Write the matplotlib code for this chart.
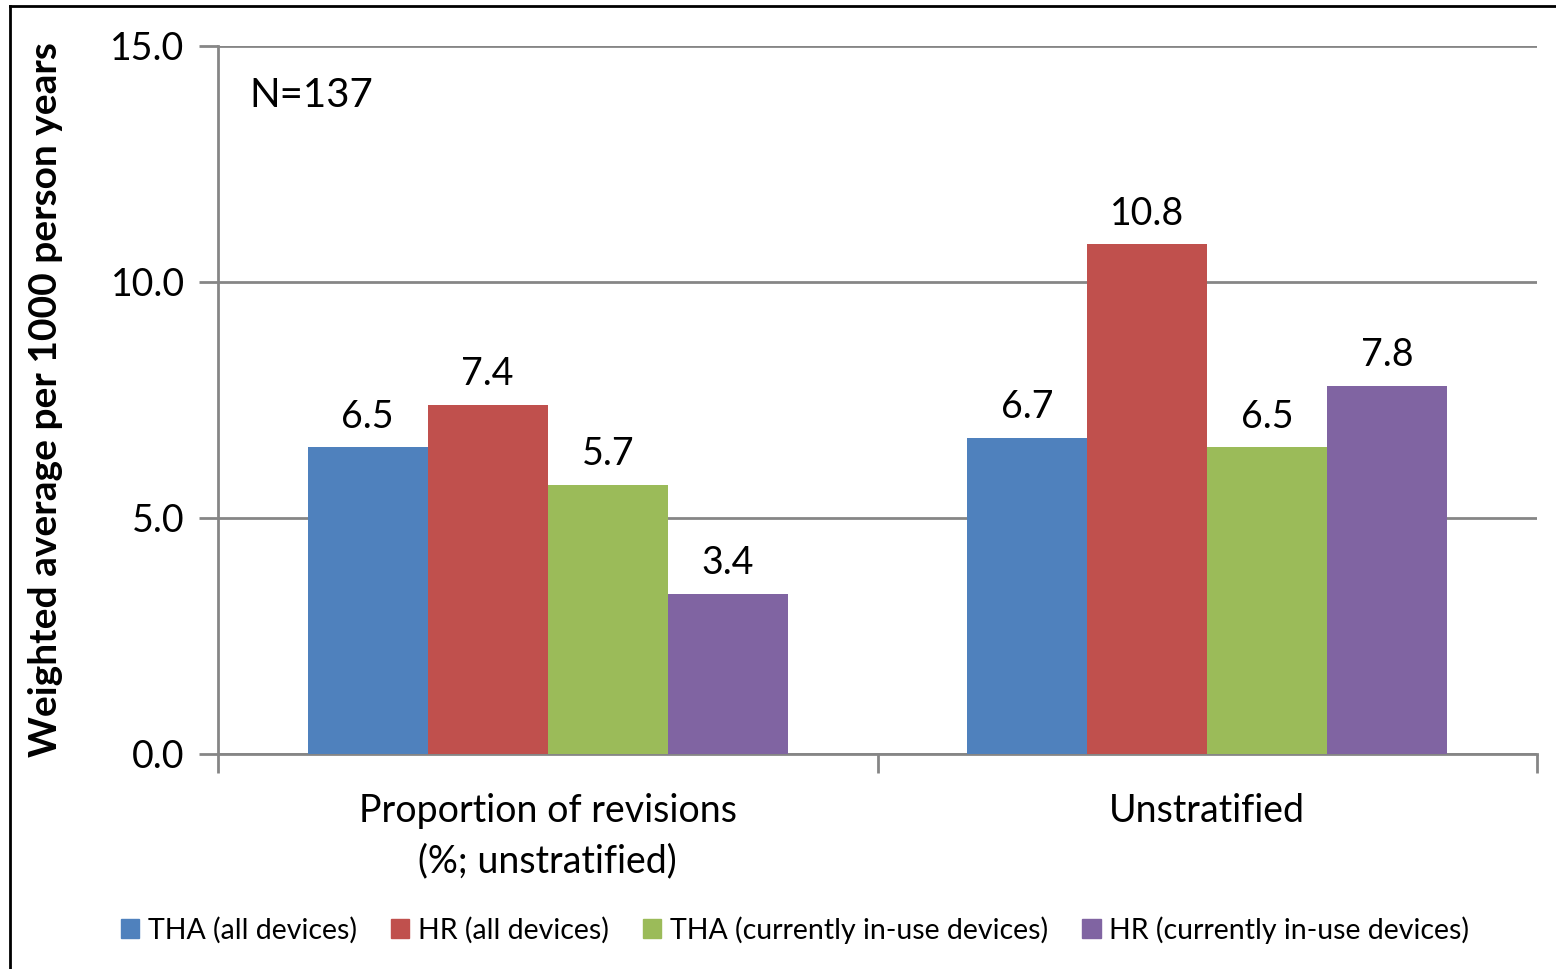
import numpy as np
import matplotlib
matplotlib.use('Agg')
from matplotlib import pyplot as plt
from matplotlib.lines import Line2D

plt.rcParams['font.family'] = ['Lato', 'DejaVu Sans']

categories = ['Proportion of revisions\n(%; unstratified)', 'Unstratified']
series_names = ['THA (all devices)', 'HR (all devices)',
                'THA (currently in-use devices)', 'HR (currently in-use devices)']
values = [
    [6.5, 6.7],    # THA (all devices)
    [7.4, 10.8],   # HR (all devices)
    [5.7, 6.5],    # THA (currently in-use)
    [3.4, 7.8],    # HR (currently in-use)
]
colors = ['#4F81BD', '#C0504D', '#9BBB59', '#8064A2']
yticks = [0.0, 5.0, 10.0, 15.0]

fig = plt.figure(figsize=(15.56, 9.69), dpi=100)
ax = fig.add_axes([218 / 1556, 1 - 754 / 969, (1537 - 218) / 1556, (754 - 46) / 969])

grey = '#868686'
x = np.arange(len(categories))
bw = 0.182
for i, (name, vals) in enumerate(zip(series_names, values)):
    pos = x + (i - 1.5) * bw
    bars = ax.bar(pos, vals, width=bw, color=colors[i], label=name, zorder=3)
    for b, v in zip(bars, vals):
        ax.annotate(f'{v:.1f}', (b.get_x() + b.get_width() / 2, v),
                    xytext=(0, 9), textcoords='offset points',
                    ha='center', va='bottom', fontsize=27)

ax.set_xlim(-0.5, 1.5)
ax.set_ylim(0, 15)
ax.set_yticks(yticks)
ax.set_yticklabels([f'{t:.1f}' for t in yticks], fontsize=27)
ax.yaxis.grid(True, color=grey, linewidth=2, zorder=0)
ax.set_axisbelow(True)

# category boundaries carry the x ticks, labels sit between
ax.set_xticks([-0.5, 0.5, 1.5])
ax.set_xticklabels([])
ax.set_xticks(x, minor=True)
ax.set_xticklabels(categories, minor=True, fontsize=27, linespacing=1.5)
ax.tick_params(axis='x', which='minor', length=0, pad=28)
ax.tick_params(axis='x', which='major', length=14, width=2, color=grey, direction='out')
ax.tick_params(axis='y', length=14, width=2, color=grey, direction='out', pad=10)

for s in ['top', 'right']:
    ax.spines[s].set_visible(False)
for s in ['left', 'bottom']:
    ax.spines[s].set_color(grey)
    ax.spines[s].set_linewidth(2)

ax.set_ylabel('Weighted average per 1000 person years', fontsize=28,
              fontweight='bold', labelpad=34)
ax.text(0.024, 0.93, 'N=137', transform=ax.transAxes, fontsize=29,
        ha='left', va='center')

handles = [plt.Rectangle((0, 0), 1, 1, color=c) for c in colors]
fig.legend(handles, series_names, loc='center', bbox_to_anchor=(795 / 1556, 1 - 930 / 969),
           ncol=4, frameon=False, fontsize=20.5, handlelength=0.65, handleheight=0.65,
           handletextpad=0.3, columnspacing=1.2)

# outer chart border (left and top visible in the original crop)
fig.add_artist(Line2D([10 / 1556, 10 / 1556], [0, 1 - 6 / 969], color='black', lw=2,
                      transform=fig.transFigure))
fig.add_artist(Line2D([10 / 1556, 1], [1 - 6 / 969, 1 - 6 / 969], color='black', lw=2,
                      transform=fig.transFigure))

fig.savefig('out.png', dpi=100)
